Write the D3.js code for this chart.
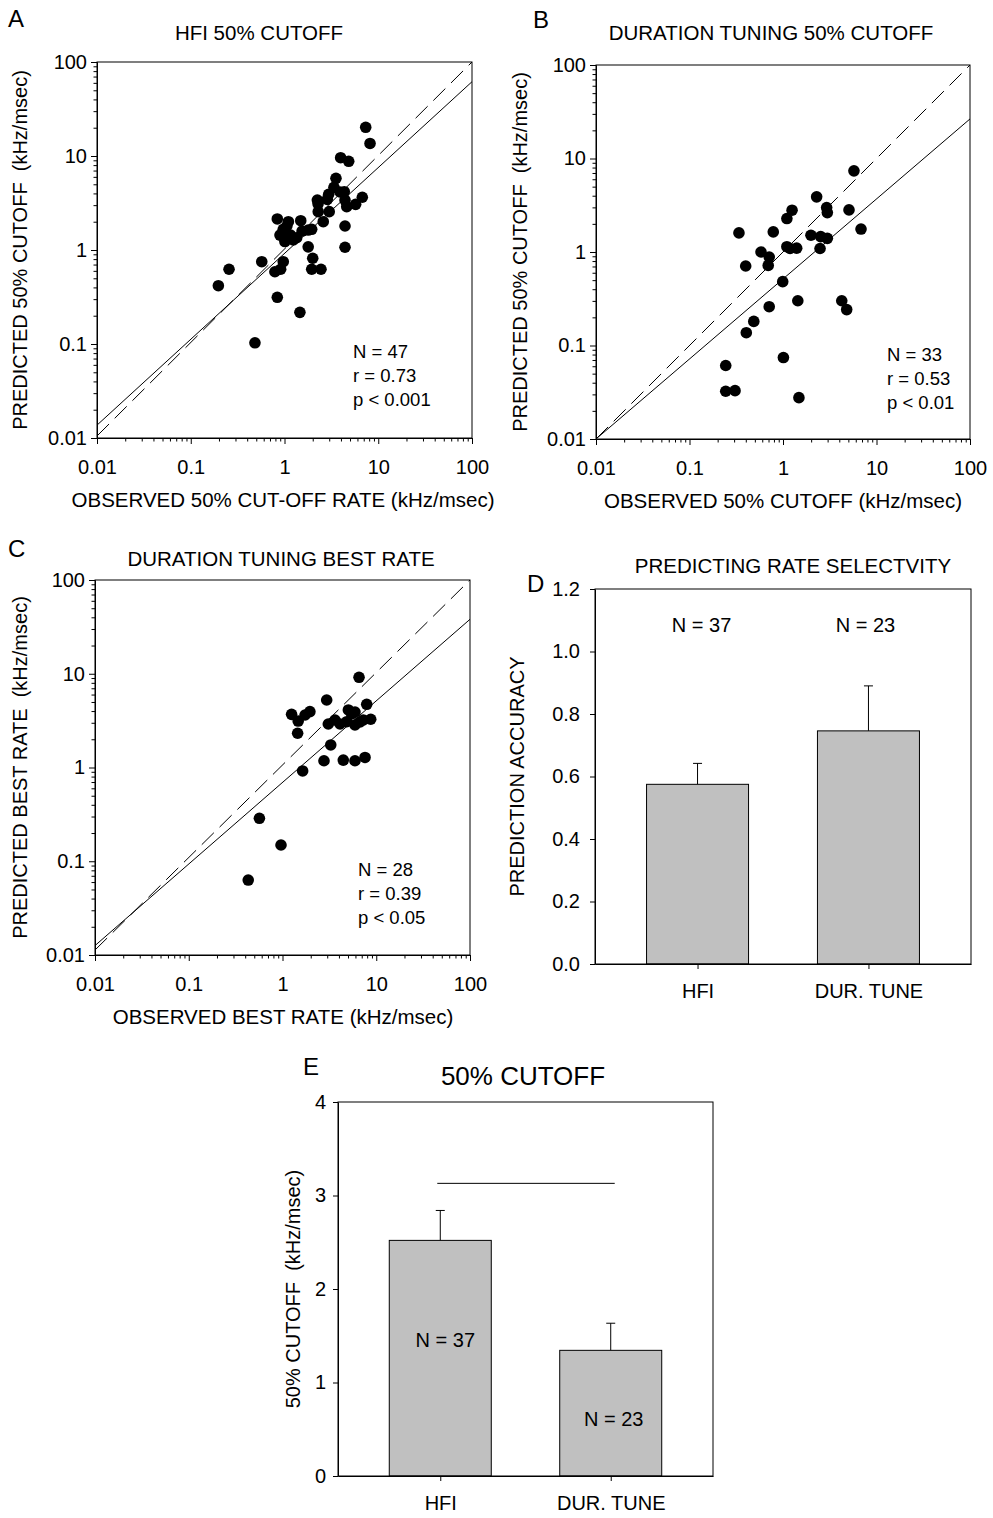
<!DOCTYPE html>
<html><head><meta charset="utf-8">
<script src="https://cdn.jsdelivr.net/npm/d3@7"></script>
<style>
body{margin:0;background:#fff}
svg text{font-family:"Liberation Sans",Arial,Helvetica,sans-serif;fill:#000}
</style>
</head><body>
<svg id="c" width="993" height="1518"></svg>
<script>
// ---------------- DATA ----------------
const logTicks = [0.01, 0.1, 1, 10, 100];
const logTickLabels = ["0.01", "0.1", "1", "10", "100"];

// Panel A: HFI 50% cutoff
const hfiObserved  = [7.35,8.17,3.97,4.84,3.54,3.37,4.34,2.96,2.24,2.86,4.42,6.76,4.61,5.74,2.29,3.00,2.59,0.838,1.10,1.49,1.95,1.79,4.42,0.97,0.895,1.16,1.35,1.24,1.01,1.79,4.42,2.00,0.572,0.97,0.256,1.95,2.45,0.91,0.79,0.197,0.838,1.46,0.484,1.54,1.06,3.91,2.28];
const hfiPredicted = [20.2,13.6,9.59,8.78,5.79,4.64,4.17,3.91,3.40,3.46,3.40,3.64,2.89,3.06,2.56,2.56,2.00,2.14,2.00,2.05,1.66,1.63,1.80,1.66,1.44,1.44,1.35,1.28,1.23,1.08,1.07,0.817,0.751,0.751,0.624,0.624,0.624,0.624,0.587,0.417,0.314,0.217,0.103,1.59,1.80,4.14,3.10];
const hfiFit      = [[0.01, 0.0137], [100, 61.7]];
const hfiIdentity = [[0.01, 0.0105], [100, 100]];
const hfiStats = ["N = 47", "r = 0.73", "p < 0.001"];

// Panel B: duration tuning 50% cutoff
const durObserved  = [5.74,2.29,2.93,2.98,5.08,1.25,1.10,0.338,0.787,6.83,1.99,2.53,2.98,1.10,1.19,1.40,2.49,0.582,0.712,0.695,0.399,0.993,1.44,4.25,4.80,0.712,0.487,0.405,1.01,0.244,0.244,0.307,1.48];
const durPredicted = [7.38,3.89,2.99,2.64,2.82,2.80,2.28,1.60,1.64,1.76,1.51,1.46,1.40,1.14,1.09,1.10,1.09,1.00,0.883,0.719,0.708,0.482,0.301,0.301,0.242,0.260,0.181,0.137,0.0743,0.0611,0.0324,0.0329,0.0277];
const durFit      = [[0.01, 0.01], [100, 26.5]];
const durIdentity = [[0.01, 0.01], [100, 100]];
const durStats = ["N = 33", "r = 0.53", "p < 0.01"];

// Panel C: duration tuning best rate
const bestObserved  = [6.55,2.96,7.91,1.25,1.96,1.74,1.47,3.08,5.04,5.47,4.11,4.84,5.93,7.28,8.73,1.45,3.27,2.77,4.45,5.93,7.59,1.64,0.567,0.964,0.431,5.93,3.63,6.71];
const bestPredicted = [9.17,5.25,4.72,3.69,3.94,3.63,3.13,2.91,4.11,3.72,2.91,3.08,2.84,3.21,3.27,2.32,1.74,1.18,1.20,1.18,1.28,0.919,0.287,0.149,0.063,3.91,3.21,3.06];
const bestFit      = [[0.01, 0.0126], [100, 38.1]];
const bestIdentity = [[0.01, 0.0113], [100, 100]];
const bestStats = ["N = 28", "r = 0.39", "p < 0.05"];

// Panel D: prediction accuracy
const barCategories = ["HFI", "DUR. TUNE"];
const accuracyMean = [0.575, 0.746];
const accuracySE   = [0.067, 0.144];
const accuracyN    = ["N = 37", "N = 23"];
const accuracyTicks = [0, 0.2, 0.4, 0.6, 0.8, 1.0, 1.2];

// Panel E: 50% cutoff
const cutoffMean = [2.52, 1.344];
const cutoffSE   = [0.32, 0.29];
const cutoffN    = ["N = 37", "N = 23"];
const cutoffTicks = [0, 1, 2, 3, 4];
const cutoffSigLevel = 3.13;

// ---------------- DRAWING ----------------
const svg = d3.select("#c");
const FONT = 20;
const TITLE_FONT = 20.5;

function minorLogTicks() {
  const m = [];
  for (let e = -2; e < 2; e++) for (let k = 2; k < 10; k++) m.push(+(k * Math.pow(10, e)).toPrecision(3));
  return m;
}

function styleAxis(g) {
  g.attr("font-family", null).attr("font-size", null);
  g.selectAll("path.domain").attr("stroke", "#000");
  g.selectAll(".tick line").attr("stroke", "#000");
  g.selectAll("text").attr("font-size", FONT).attr("fill", "#000");
}

function scatterPanel(P) {
  const x = d3.scaleLog().domain([0.01, 100]).range([P.l, P.r]);
  const y = d3.scaleLog().domain([0.01, 100]).range([P.b, P.t]);
  const g = svg.append("g");

  g.append("g").attr("transform", `translate(0,${P.b})`)
    .call(d3.axisBottom(x).tickValues(minorLogTicks()).tickFormat("").tickSize(3.5).tickSizeOuter(0))
    .call(styleAxis);
  g.append("g").attr("transform", `translate(${P.l},0)`)
    .call(d3.axisLeft(y).tickValues(minorLogTicks()).tickFormat("").tickSize(3.5).tickSizeOuter(0))
    .call(styleAxis);
  g.append("g").attr("transform", `translate(0,${P.b})`)
    .call(d3.axisBottom(x).tickValues(logTicks).tickFormat((d, i) => logTickLabels[i]).tickSize(6).tickSizeOuter(0).tickPadding(16))
    .call(styleAxis);
  g.append("g").attr("transform", `translate(${P.l},0)`)
    .call(d3.axisLeft(y).tickValues(logTicks).tickFormat((d, i) => logTickLabels[i]).tickSize(6).tickSizeOuter(0).tickPadding(4))
    .call(styleAxis);

  g.append("rect").attr("x", P.l).attr("y", P.t).attr("width", P.r - P.l).attr("height", P.b - P.t)
    .attr("fill", "none").attr("stroke", "#000").attr("stroke-width", 1);

  const line = d3.line().x(d => x(d[0])).y(d => y(d[1]));
  g.append("path").attr("d", line(P.identity)).attr("fill", "none").attr("stroke", "#000")
    .attr("stroke-width", 1).attr("stroke-dasharray", "17,8");
  g.append("path").attr("d", line(P.fit)).attr("fill", "none").attr("stroke", "#000").attr("stroke-width", 1);

  g.selectAll("circle.pt").data(P.obs).enter().append("circle").attr("class", "pt")
    .attr("cx", d => x(d)).attr("cy", (d, i) => y(P.pred[i])).attr("r", 5.8).attr("fill", "#000");

  g.selectAll("text.stat").data(P.stats).enter().append("text").attr("class", "stat")
    .attr("x", P.statX).attr("y", (d, i) => P.statY + i * 24).attr("font-size", 18.5).text(d => d);

  g.append("text").attr("x", P.titleX).attr("y", P.titleY).attr("text-anchor", "middle")
    .attr("font-size", TITLE_FONT).text(P.title);
  g.append("text").attr("x", P.xTitleX).attr("y", P.b + 69).attr("text-anchor", "middle")
    .attr("font-size", 20.5).text(P.xTitle);
  g.append("text").attr("transform", `translate(${P.yTitleX},${(P.t + P.b) / 2}) rotate(-90)`)
    .attr("text-anchor", "middle").attr("font-size", FONT).style("white-space", "pre").text(P.yTitle);
  g.append("text").attr("x", P.letterX).attr("y", P.letterY).attr("font-size", 24).text(P.letter);
}

scatterPanel({
  l: 97, r: 472, t: 62, b: 438,
  obs: hfiObserved, pred: hfiPredicted, fit: hfiFit, identity: hfiIdentity,
  stats: hfiStats, statX: 353, statY: 358,
  title: "HFI 50% CUTOFF", titleX: 259, titleY: 40,
  xTitle: "OBSERVED 50% CUT-OFF RATE (kHz/msec)", xTitleX: 283,
  yTitle: "PREDICTED 50% CUTOFF  (kHz/msec)", yTitleX: 27,
  letter: "A", letterX: 8, letterY: 27
});
scatterPanel({
  l: 596, r: 970, t: 65, b: 439,
  obs: durObserved, pred: durPredicted, fit: durFit, identity: durIdentity,
  stats: durStats, statX: 887, statY: 361,
  title: "DURATION TUNING 50% CUTOFF", titleX: 771, titleY: 40,
  xTitle: "OBSERVED 50% CUTOFF (kHz/msec)", xTitleX: 783,
  yTitle: "PREDICTED 50% CUTOFF  (kHz/msec)", yTitleX: 527,
  letter: "B", letterX: 533, letterY: 28
});
scatterPanel({
  l: 95, r: 470, t: 580, b: 955,
  obs: bestObserved, pred: bestPredicted, fit: bestFit, identity: bestIdentity,
  stats: bestStats, statX: 358, statY: 876,
  title: "DURATION TUNING BEST RATE", titleX: 281, titleY: 566,
  xTitle: "OBSERVED BEST RATE (kHz/msec)", xTitleX: 283,
  yTitle: "PREDICTED BEST RATE  (kHz/msec)", yTitleX: 27,
  letter: "C", letterX: 8, letterY: 557
});

function barPanel(P) {
  const x = d3.scalePoint().domain(barCategories).range([P.l, P.r]).padding(0.6);
  const y = d3.scaleLinear().domain(P.domain).range([P.b, P.t]);
  const g = svg.append("g");
  const bw = 102;

  g.append("g").attr("transform", `translate(0,${P.b})`)
    .call(d3.axisBottom(x).tickSize(5).tickSizeOuter(0).tickPadding(15))
    .call(styleAxis);
  g.append("g").attr("transform", `translate(${P.l},0)`)
    .call(d3.axisLeft(y).tickValues(P.ticks).tickFormat(P.fmt).tickSize(5).tickSizeOuter(0).tickPadding(P.yPad))
    .call(styleAxis);

  barCategories.forEach((c, i) => {
    const cx = x(c);
    g.append("line").attr("x1", cx).attr("x2", cx).attr("y1", y(P.mean[i])).attr("y2", y(P.mean[i] + P.se[i]))
      .attr("stroke", "#000").attr("stroke-width", 1);
    g.append("line").attr("x1", cx - 4.5).attr("x2", cx + 4.5).attr("y1", y(P.mean[i] + P.se[i])).attr("y2", y(P.mean[i] + P.se[i]))
      .attr("stroke", "#000").attr("stroke-width", 1);
  });
  g.selectAll("rect.bar").data(P.mean).enter().append("rect").attr("class", "bar")
    .attr("x", (d, i) => x(barCategories[i]) - bw / 2).attr("width", bw)
    .attr("y", d => y(d)).attr("height", d => P.b - y(d))
    .attr("fill", "#c0c0c0").attr("stroke", "#000").attr("stroke-width", 1);

  g.append("rect").attr("x", P.l).attr("y", P.t).attr("width", P.r - P.l).attr("height", P.b - P.t)
    .attr("fill", "none").attr("stroke", "#000").attr("stroke-width", 1);

  g.selectAll("text.n").data(P.nLabels).enter().append("text").attr("class", "n")
    .attr("x", (d, i) => x(barCategories[i]) + P.nDx[i]).attr("y", (d, i) => P.nY[i])
    .attr("text-anchor", "middle").attr("font-size", FONT).text(d => d);

  if (P.sig !== undefined) {
    g.append("line").attr("x1", x(barCategories[0]) - 3).attr("x2", x(barCategories[1]) + 4)
      .attr("y1", y(P.sig)).attr("y2", y(P.sig)).attr("stroke", "#000").attr("stroke-width", 1);
  }

  g.append("text").attr("x", P.titleX).attr("y", P.titleY).attr("text-anchor", "middle")
    .attr("font-size", P.titleSize).text(P.title);
  g.append("text").attr("transform", `translate(${P.yTitleX},${(P.t + P.b) / 2}) rotate(-90)`)
    .attr("text-anchor", "middle").attr("font-size", FONT).style("white-space", "pre").text(P.yTitle);
  g.append("text").attr("x", P.letterX).attr("y", P.letterY).attr("font-size", 24).text(P.letter);
}

barPanel({
  l: 595, r: 971, t: 589, b: 964, domain: [0, 1.2], ticks: accuracyTicks, fmt: d3.format(".1f"), yPad: 10,
  mean: accuracyMean, se: accuracySE, nLabels: accuracyN, nDx: [4, -3], nY: [632, 632],
  title: "PREDICTING RATE SELECTVITY", titleX: 793, titleY: 573, titleSize: TITLE_FONT,
  yTitle: "PREDICTION ACCURACY", yTitleX: 524,
  letter: "D", letterX: 527, letterY: 592
});
barPanel({
  l: 338, r: 713, t: 1102, b: 1476, domain: [0, 4], ticks: cutoffTicks, fmt: d3.format("d"), yPad: 7,
  mean: cutoffMean, se: cutoffSE, nLabels: cutoffN, nDx: [5, 3], nY: [1347, 1426], sig: cutoffSigLevel,
  title: "50% CUTOFF", titleX: 523, titleY: 1085, titleSize: 26,
  yTitle: "50% CUTOFF  (kHz/msec)", yTitleX: 300,
  letter: "E", letterX: 303, letterY: 1075
});
</script>
</body></html>
